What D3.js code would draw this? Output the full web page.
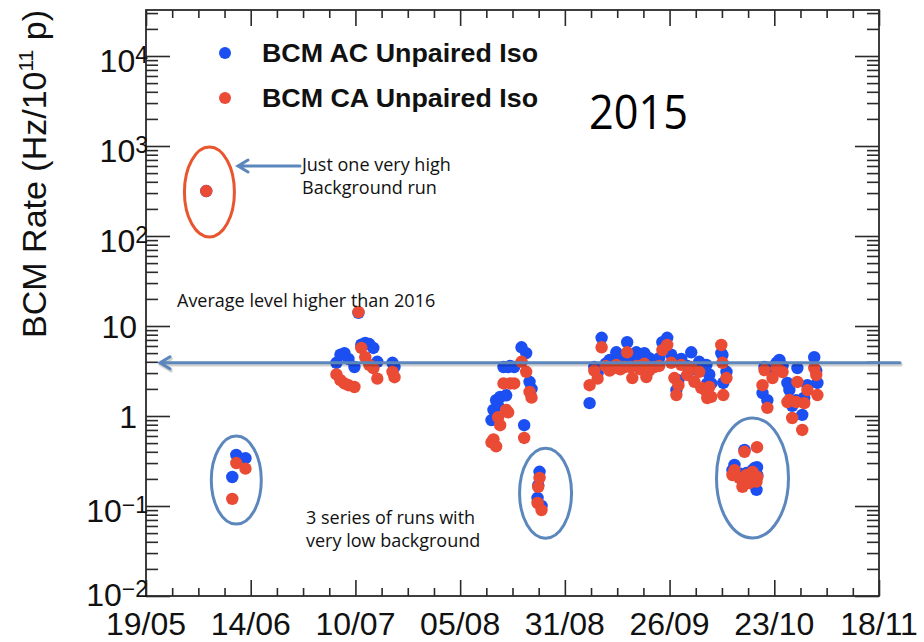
<!DOCTYPE html>
<html>
<head>
<meta charset="utf-8">
<script src="https://cdn.jsdelivr.net/npm/d3@7"></script>
<style>
  body { margin: 0; background: #fff; }
  svg { display: block; }
</style>
</head>
<body>
<svg id="chart" width="924" height="642"></svg>
<script>
// ---- Run-by-run BCM background rates, 2015 (one entry per run) ----
const runDates = [
  "06-03 05","06-09 17","06-10 17","06-13 00",
  "07-05 17","07-06 17","07-07 17","07-08 17","07-10 05","07-11 05","07-11 22","07-12 22",
  "07-13 22","07-14 22","07-15 22","07-19 17","07-20 05",
  "08-13 10","08-13 22","08-14 14","08-15 02","08-15 14","08-16 10","08-17 02","08-17 14",
  "08-18 02","08-19 02","08-20 22","08-21 14","08-22 02","08-22 22","08-23 10",
  "08-24 22","08-25 02","08-25 10","08-25 22",
  "09-06 22","09-08 02","09-08 22","09-09 22","09-10 22","09-11 22","09-12 22","09-13 14",
  "09-14 14","09-15 14","09-16 07","09-17 02","09-17 14","09-18 14","09-19 14","09-20 14",
  "09-21 02","09-21 19","09-23 02","09-24 07","09-25 02","09-26 07","09-27 07","09-28 02",
  "09-28 14","09-29 02","09-29 19","10-01 07","10-02 07","10-03 02","10-04 07","10-04 19",
  "10-06 02","10-06 07","10-06 19","10-07 07","10-09 19","10-10 02","10-10 07","10-11 02",
  "10-12 14","10-13 02","10-14 07","10-15 02","10-15 14","10-16 02","10-16 19","10-17 14",
  "10-18 02","10-18 14","10-18 17","10-18 19",
  "10-20 02","10-20 14","10-21 07","10-22 14","10-23 14","10-24 07","10-25 02","10-26 07",
  "10-26 19","10-27 12","10-28 12","10-28 19","10-30 00","10-30 12","10-31 07","11-02 00",
  "11-02 12","11-02 19"
];
// BCM AC unpaired isolated rate, Hz / 1e11 p
const acRates = [
  316, 0.21, 0.37, 0.34,
  3.9, 4.8, 5.0, 4.3, 3.5, 14.0, 6.2, 6.5,
  6.3, 5.7, 4.0, 3.9, 3.5,
  0.90, 1.17, 1.50, 1.30, 1.63, 3.5, 1.7, 3.5,
  3.6, 3.5, 5.8, 0.79, 5.0, 2.4, 2.0,
  0.123, 0.17, 0.24, 0.10,
  1.39, 3.5, 3.0, 7.4, 3.8, 4.2, 4.0, 5.1,
  4.5, 4.0, 6.6, 4.6, 4.2, 5.1, 4.8, 5.0,
  4.0, 4.4, 3.8, 4.4, 6.6, 7.4, 4.8, 4.2,
  1.94, 2.5, 4.3, 3.6, 5.1, 3.3, 4.0, 3.2,
  3.7, 2.3, 2.9, 2.3, 5.0, 4.76, 2.33, 3.1,
  0.25, 0.286, 0.23, 0.19, 0.42, 0.233, 0.20, 0.25,
  0.264, 0.151, 0.27, 0.22,
  1.8, 3.5, 1.5, 3.2, 3.9, 4.19, 3.6, 2.33,
  1.94, 1.3, 1.5, 3.41, 1.03, 1.6, 2.2, 4.5,
  3.2, 2.33
];
// BCM CA unpaired isolated rate, Hz / 1e11 p
const caRates = [
  316, 0.12, 0.30, 0.26,
  2.9, 2.5, 2.3, 2.2, 2.1, 14.3, 5.7, 4.5,
  3.7, 3.4, 2.6, 3.1, 2.7,
  0.51, 0.55, 0.46, 0.97, 0.79, 2.3, 1.17, 1.1,
  2.3, 2.3, 4.0, 0.57, 3.1, 1.85, 1.6,
  0.108, 0.163, 0.205, 0.090,
  2.2, 3.2, 2.6, 5.8, 3.6, 3.2, 3.4, 3.7,
  3.3, 3.5, 5.1, 3.5, 2.64, 3.6, 3.3, 3.8,
  2.71, 3.2, 3.5, 3.6, 5.4, 6.15, 3.9, 2.64,
  1.71, 2.2, 3.7, 2.86, 3.5, 2.4, 3.1, 2.05,
  1.85, 1.58, 2.1, 1.63, 6.15, 3.9, 1.71, 2.64,
  0.221, 0.25, 0.205, 0.163, 0.40, 0.221, 0.18, 0.239,
  0.21, 0.187, 0.45, 0.21,
  2.2, 3.24, 1.23, 2.64, 3.41, 3.24, 3.08, 1.43,
  1.51, 0.95, 1.43, 2.39, 0.70, 1.39, 1.94, 3.41,
  2.86, 1.71
];

const seriesNames = ["BCM AC Unpaired Iso", "BCM CA Unpaired Iso"];
const seriesColors = ["#1c4ff2", "#ea4b34"];

const xTickLabels = ["19/05", "14/06", "10/07", "05/08", "31/08", "26/09", "23/10", "18/11"];
const yTickValues = [1e-2, 1e-1, 1, 10, 1e2, 1e3, 1e4];
const yTickBases  = ["10", "10", "1", "10", "10", "10", "10"];
const yTickExps   = ["\u22122", "\u22121", "", "", "2", "3", "4"];

const averageLevel = 3.9;   // Hz / 1e11 p, the 2015 average marked by the long arrow

// ---- Layout ----
const svg = d3.select("#chart");
const plotL = 146, plotR = 879, plotT = 10, plotB = 596;
const parseRun = d3.timeParse("%Y-%m-%d %H");
const runTime = s => parseRun("2015-" + s);

const xStart = parseRun("2015-05-19 04");
const xEnd   = parseRun("2015-11-18 04");
const x = d3.scaleTime().domain([xStart, xEnd]).range([plotL, plotR]);
const yMax = 0.01 * Math.pow(10, (plotB - plotT) / 90);
const y = d3.scaleLog().domain([0.01, yMax]).range([plotB, plotT]);

// ---- Axis ticks (drawn inward on all four sides) ----
const span = xEnd - xStart;
const majorX = d3.range(8).map(k => new Date(+xStart + span * k / 7));
const minorX = d3.range(29).map(k => new Date(+xStart + span * k / 28)).filter((d, k) => k % 4 !== 0);

const minorY = [];
for (let e = -2; e <= 4; e++) for (let m = 2; m <= 9; m++) {
  const v = m * Math.pow(10, e);
  if (v < yMax) minorY.push(v);
}

const axisStyle = g => {
  g.select(".domain").remove();
  g.selectAll("line").attr("stroke", "#2a2a2a").attr("stroke-width", 1.6);
  g.selectAll("text").remove();
};

svg.append("g").attr("transform", `translate(0,${plotB})`)
  .call(d3.axisBottom(x).tickValues(majorX).tickSize(-16)).call(axisStyle);
svg.append("g").attr("transform", `translate(0,${plotB})`)
  .call(d3.axisBottom(x).tickValues(minorX).tickSize(-8)).call(axisStyle);
svg.append("g").attr("transform", `translate(0,${plotT})`)
  .call(d3.axisTop(x).tickValues(majorX).tickSize(-16)).call(axisStyle);
svg.append("g").attr("transform", `translate(0,${plotT})`)
  .call(d3.axisTop(x).tickValues(minorX).tickSize(-8)).call(axisStyle);

svg.append("g").attr("transform", `translate(${plotL},0)`)
  .call(d3.axisLeft(y).tickValues(yTickValues).tickSize(-24)).call(axisStyle);
svg.append("g").attr("transform", `translate(${plotL},0)`)
  .call(d3.axisLeft(y).tickValues(minorY).tickSize(-12)).call(axisStyle);
svg.append("g").attr("transform", `translate(${plotR},0)`)
  .call(d3.axisRight(y).tickValues(yTickValues).tickSize(-24)).call(axisStyle);
svg.append("g").attr("transform", `translate(${plotR},0)`)
  .call(d3.axisRight(y).tickValues(minorY).tickSize(-12)).call(axisStyle);

// frame
svg.append("rect")
  .attr("x", plotL).attr("y", plotT)
  .attr("width", plotR - plotL).attr("height", plotB - plotT)
  .attr("fill", "none").attr("stroke", "#2a2a2a").attr("stroke-width", 1.8);

// ---- Tick labels ----
const axisFont = "'Liberation Sans', Arial, Helvetica, sans-serif";
svg.append("g").selectAll("text")
  .data(majorX)
  .join("text")
  .attr("x", d => x(d))
  .attr("y", 635)
  .attr("text-anchor", "middle")
  .attr("font-family", axisFont)
  .attr("font-size", 32)
  .attr("fill", "#111")
  .text((d, i) => xTickLabels[i]);

const yl = svg.append("g");
yTickValues.forEach((v, i) => {
  const hasExp = yTickExps[i] !== "";
  const lowest = i === 0;
  const t = yl.append("text")
    .attr("x", hasExp ? 148 : 137)
    .attr("y", y(v) + (hasExp ? (lowest ? 10 : 16) : 11.5))
    .attr("text-anchor", "end")
    .attr("font-family", axisFont)
    .attr("font-size", 32)
    .attr("fill", "#111");
  t.append("tspan").text(yTickBases[i]);
  if (hasExp) t.append("tspan").attr("font-size", 23).attr("dy", -9).text(yTickExps[i]);
});

// y-axis title
const yt = svg.append("text")
  .attr("transform", `translate(46,${plotT}) rotate(-90)`)
  .attr("text-anchor", "end")
  .attr("font-family", axisFont)
  .attr("font-size", 34)
  .attr("fill", "#111");
yt.append("tspan").text("BCM Rate (Hz/10");
yt.append("tspan").attr("font-size", 21).attr("dy", -13).text("11");
yt.append("tspan").attr("dy", 13).text(" p)");

// ---- Data points: AC first, CA drawn over it ----
const runs = runDates.map((d, i) => ({ t: runTime(d), ac: acRates[i], ca: caRates[i] }));
const pts = svg.append("g");
pts.selectAll("circle.ac").data(runs).join("circle")
  .attr("class", "ac")
  .attr("cx", d => x(d.t)).attr("cy", d => y(d.ac)).attr("r", 6.2)
  .attr("fill", seriesColors[0]);
pts.selectAll("circle.ca").data(runs).join("circle")
  .attr("class", "ca")
  .attr("cx", d => x(d.t)).attr("cy", d => y(d.ca)).attr("r", 6.2)
  .attr("fill", seriesColors[1]);

// ---- Legend ----
const legend = svg.append("g");
seriesNames.forEach((name, i) => {
  const ly = 53 + i * 45;
  legend.append("circle").attr("cx", 225).attr("cy", ly).attr("r", 6)
    .attr("fill", seriesColors[i]);
  legend.append("text")
    .attr("x", 262).attr("y", ly + 8.5)
    .attr("font-family", axisFont)
    .attr("font-weight", "bold")
    .attr("font-size", 26)
    .attr("textLength", 276)
    .attr("lengthAdjust", "spacingAndGlyphs")
    .attr("fill", "#111")
    .text(name);
});

// ---- Annotations ----
const noteFont = "'Open Sans', Lato, sans-serif";
const arrowBlue = "#5b87bd";

svg.append("text")
  .attr("x", 589).attr("y", 129)
  .attr("font-family", noteFont)
  .attr("font-size", 47)
  .attr("textLength", 99)
  .attr("lengthAdjust", "spacingAndGlyphs")
  .attr("fill", "#000")
  .text("2015");

// ellipses around the notable runs
const ellipses = [
  { t: "06-04 00", v: 308,   rx: 25, ry: 45, c: "#e8552f" },
  { t: "06-10 17", v: 0.194, rx: 25, ry: 44, c: arrowBlue },
  { t: "08-26 22", v: 0.139, rx: 26, ry: 45, c: arrowBlue },
  { t: "10-17 14", v: 0.205, rx: 36, ry: 60, c: arrowBlue }
];
svg.append("g").selectAll("ellipse").data(ellipses).join("ellipse")
  .attr("cx", d => x(runTime(d.t))).attr("cy", d => y(d.v))
  .attr("rx", d => d.rx).attr("ry", d => d.ry)
  .attr("fill", "none").attr("stroke", d => d.c).attr("stroke-width", 3);

// arrow helper: shaft from (x1,yy) to tip (x2,yy) with an open head
function arrow(x1, x2, yy, shadow) {
  const g = svg.append("g").attr("fill", "none").attr("stroke-linecap", "round");
  const path = `M${x1},${yy}H${x2}M${x2 + 10},${yy - 6}L${x2},${yy}L${x2 + 10},${yy + 6}`;
  if (shadow) {
    g.append("path").attr("d", path).attr("transform", "translate(1,2)")
      .attr("stroke", "#000").attr("stroke-opacity", 0.18).attr("stroke-width", 3.5);
  }
  g.append("path").attr("d", path).attr("stroke", arrowBlue).attr("stroke-width", 3);
}
arrow(900, 160, y(averageLevel), true);
arrow(300, 238, 166, false);

const notes = [
  { x: 302, y: 171, s: "Just one very high" },
  { x: 302, y: 194, s: "Background run" },
  { x: 177, y: 307, s: "Average level higher than 2016" },
  { x: 306, y: 524, s: "3 series of runs with" },
  { x: 306, y: 547, s: "very low background" }
];
svg.append("g").selectAll("text").data(notes).join("text")
  .attr("x", d => d.x).attr("y", d => d.y)
  .attr("font-family", noteFont)
  .attr("font-size", 18)
  .attr("fill", "#111")
  .text(d => d.s);
</script>
</body>
</html>
